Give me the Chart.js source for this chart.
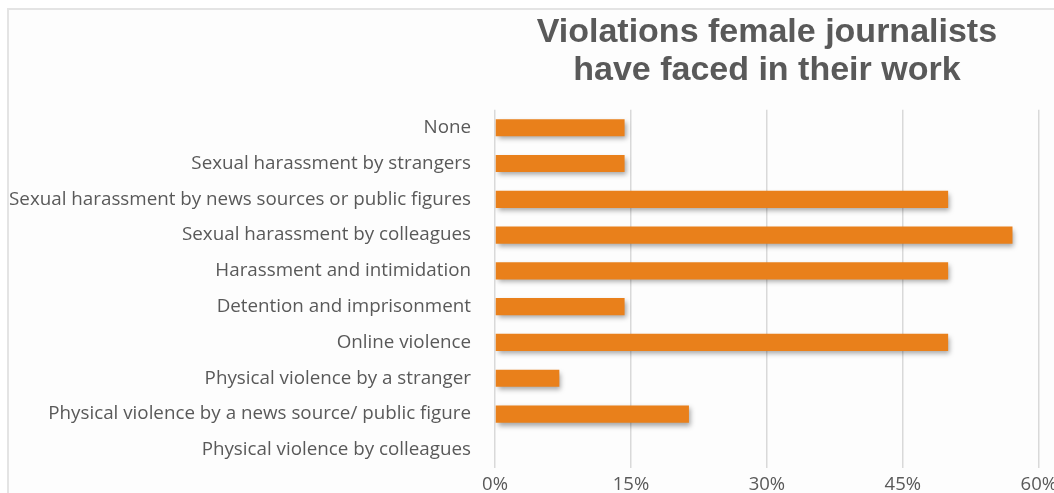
<!DOCTYPE html>
<html>
<head>
<meta charset="utf-8">
<script src="https://cdn.jsdelivr.net/npm/chart.js@4"></script>
<style>
  html, body { margin: 0; padding: 0; background: #fff; }
  #wrap { position: relative; width: 1054px; height: 493px; overflow: hidden; }
  #frame { position: absolute; left: 7px; top: 8px; width: 1060px; height: 500px;
           border: 2px solid #e4e4e4; background: #fdfdfd; box-sizing: border-box; }
  canvas { position: absolute; left: 0; top: 0; }
</style>
</head>
<body>
<div id="wrap">
  <div id="frame"></div>
  <canvas id="chart" width="1063" height="503"></canvas>
</div>
<script>
// Categories (top to bottom) and share of respondents (%)
const categories = [
  'None',
  'Sexual harassment by strangers',
  'Sexual harassment by news sources or public figures',
  'Sexual harassment by colleagues',
  'Harassment and intimidation',
  'Detention and imprisonment',
  'Online violence',
  'Physical violence by a stranger',
  'Physical violence by a news source/ public figure',
  'Physical violence by colleagues'
];
const shares = [14.3, 14.3, 50, 57.1, 50, 14.3, 50, 7.1, 21.4, 0];
const xTicks = [0, 15, 30, 45, 60];
const titleLines = ['Violations female journalists', 'have faced in their work'];

// soft drop shadow under the bars, like the original
const barShadow = {
  id: 'barShadow',
  beforeDatasetsDraw(chart) {
    const ctx = chart.ctx;
    ctx.save();
    ctx.shadowColor = 'rgba(0,0,0,0.35)';
    ctx.shadowBlur = 5;
    ctx.shadowOffsetX = 2;
    ctx.shadowOffsetY = 3;
  },
  afterDatasetsDraw(chart) {
    chart.ctx.restore();
  }
};

new Chart(document.getElementById('chart'), {
  type: 'bar',
  data: {
    labels: categories,
    datasets: [{
      data: shares,
      backgroundColor: '#e9801b',
      borderWidth: 0,
      categoryPercentage: 1,
      barPercentage: 0.48
    }]
  },
  options: {
    indexAxis: 'y',
    responsive: false,
    animation: false,
    layout: { padding: { left: 8, right: 0, top: 0, bottom: 0 } },
    plugins: {
      legend: { display: false },
      tooltip: { enabled: false },
      title: {
        display: true,
        fullSize: false,
        text: titleLines,
        color: '#595959',
        font: { family: 'Liberation Sans', weight: 'bold', size: 34, lineHeight: 1.13 },
        padding: { top: 13, bottom: 20 }
      }
    },
    scales: {
      x: {
        min: 0,
        max: 60,
        afterBuildTicks: s => { s.ticks = xTicks.map(v => ({ value: v })); },
        ticks: {
          callback: v => v + '%',
          color: '#595959',
          font: { family: 'Open Sans', size: 18.5 },
          padding: 6,
          maxRotation: 0
        },
        grid: { color: '#d9d9d9', lineWidth: 1.5, drawTicks: false },
        border: { display: false }
      },
      y: {
        afterFit: s => { s.width = 487; },
        ticks: {
          color: '#595959',
          font: { family: 'Open Sans', size: 18.8 },
          padding: 24
        },
        grid: { display: false, drawTicks: false },
        border: { display: false }
      }
    }
  },
  plugins: [barShadow]
});
</script>
</body>
</html>
